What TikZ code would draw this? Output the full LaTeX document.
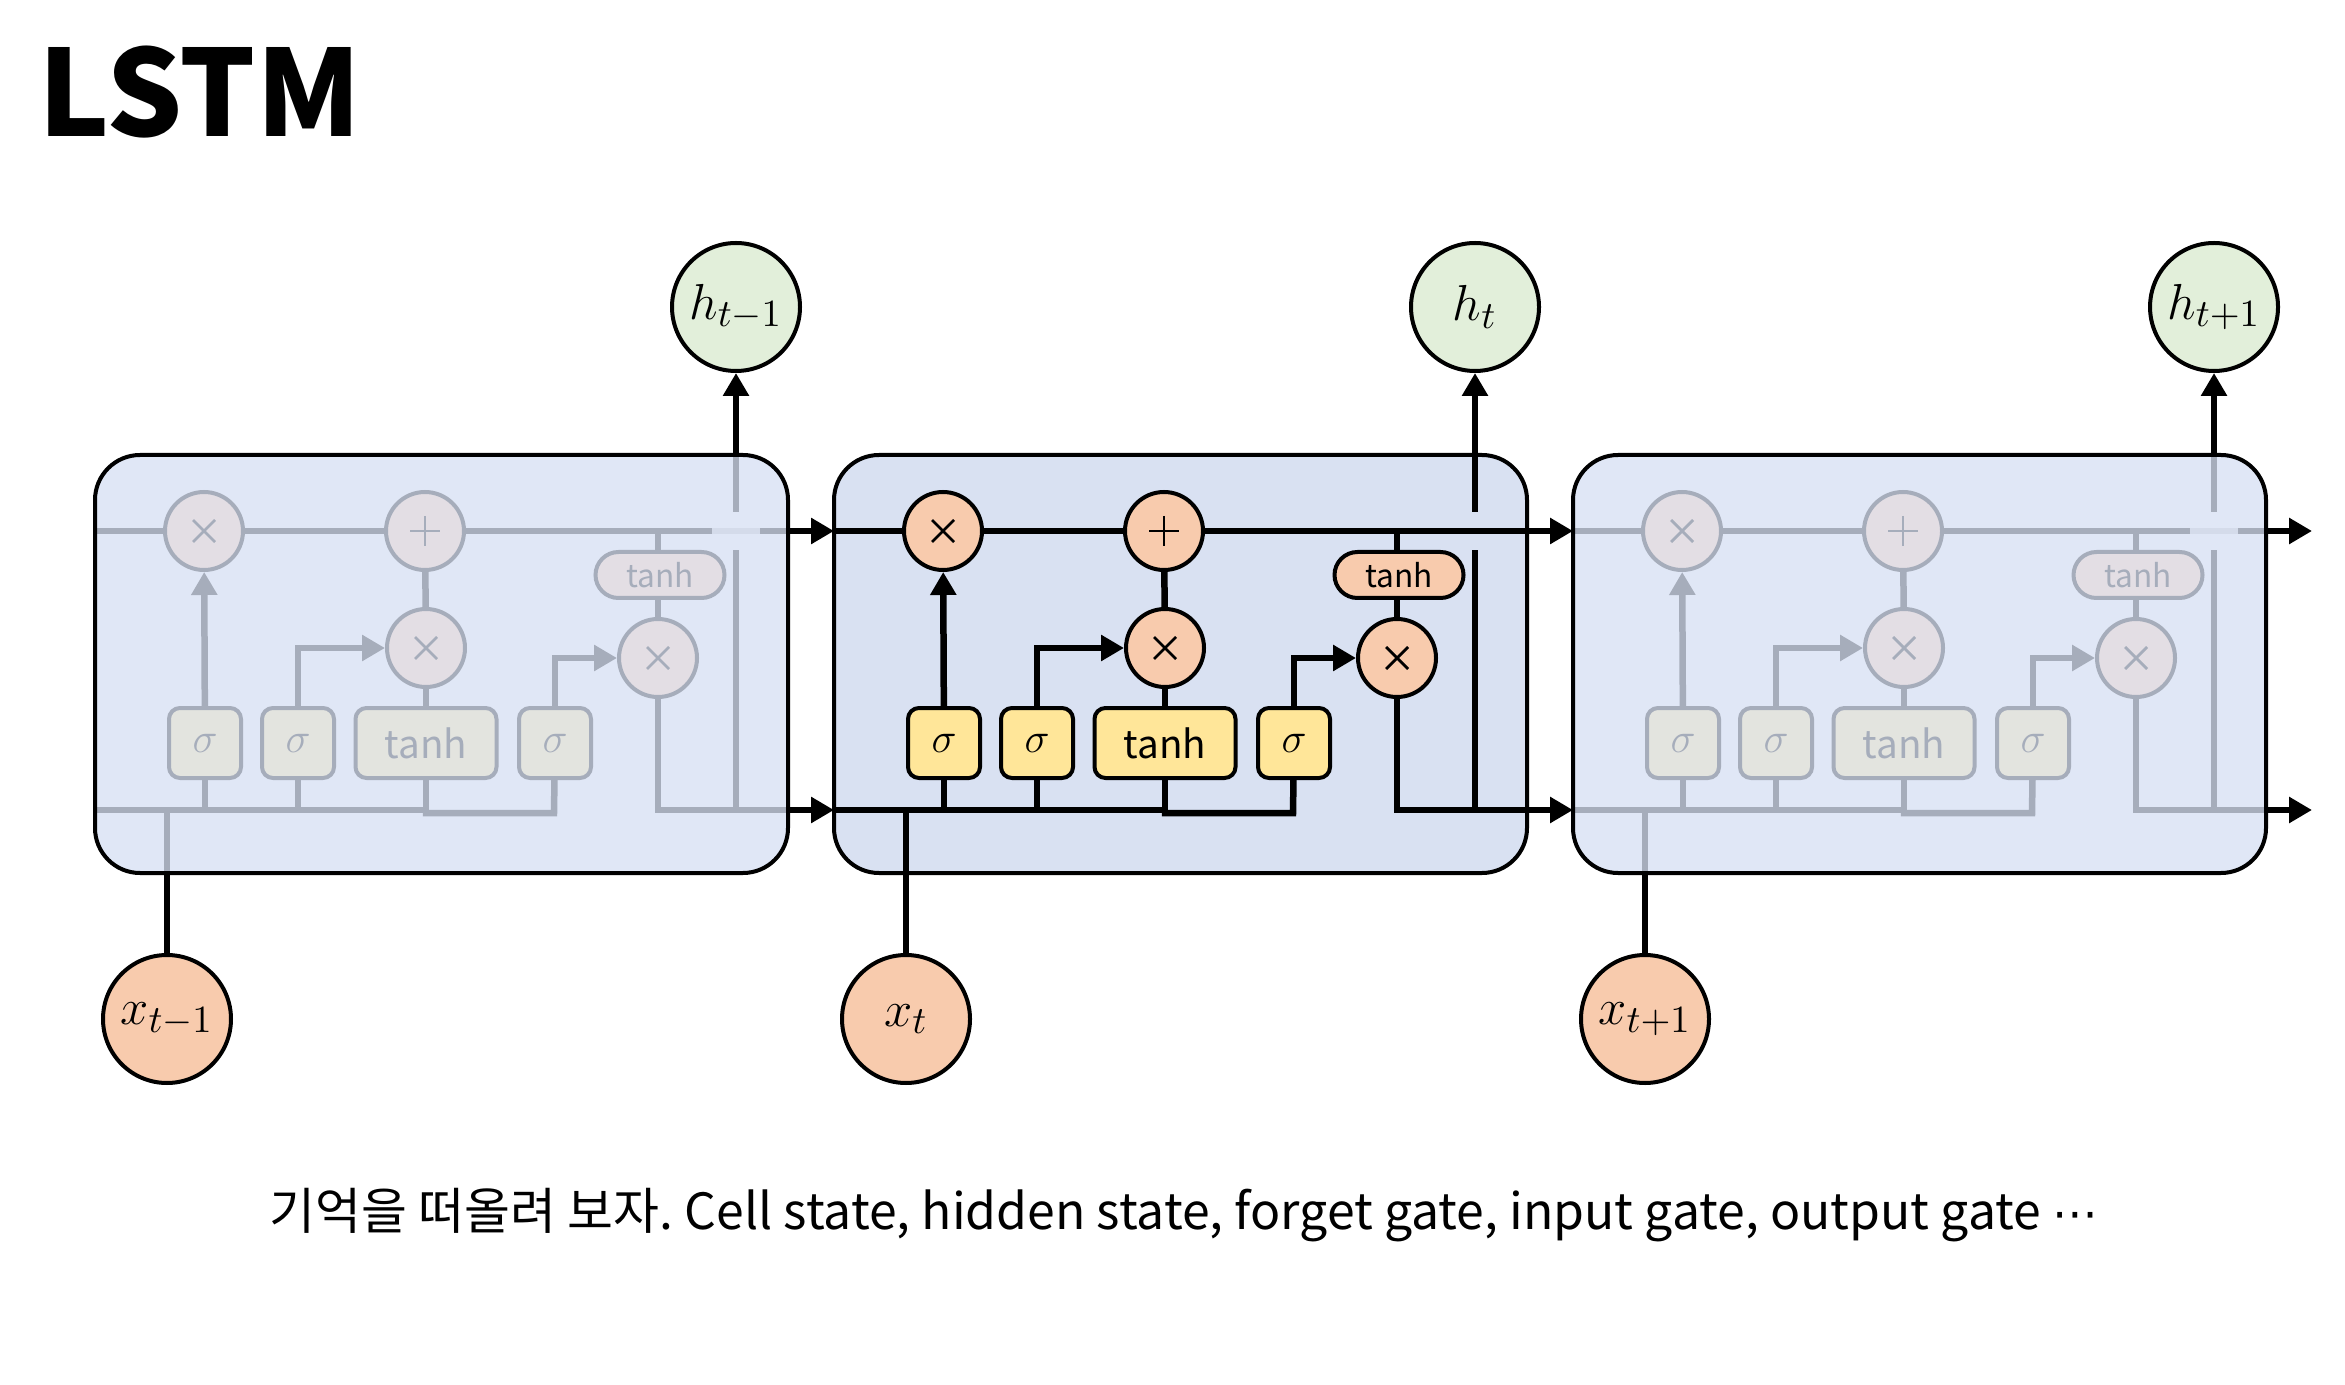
\documentclass[tikz,border=0pt]{standalone}
\usepackage[no-math]{fontspec}
\setmainfont{Noto Sans CJK KR}
\newfontfamily\dejavu{DejaVu Sans}
\usetikzlibrary{arrows.meta}
\frenchspacing

\definecolor{boxA}{HTML}{D9E1F2}
\definecolor{boxF}{HTML}{E0E7F6}
\definecolor{opA}{HTML}{F8CBAD}
\definecolor{opF}{HTML}{E3DEE4}
\definecolor{gtA}{HTML}{FFE699}
\definecolor{gtF}{HTML}{E3E4DF}
\definecolor{hcol}{HTML}{E2EFDA}
\definecolor{lnF}{HTML}{A6ADBB}

\tikzset{
  wire/.style={line width=0.65mm, draw=ln},
  blackwire/.style={line width=0.65mm, draw=black},
  arr/.style={-{Triangle[length=2.3mm,width=2.5mm]}},
  cellbox/.style={rectangle, rounded corners=4.5mm, minimum width=69.3mm, minimum height=41.8mm, inner sep=0pt},
  opnode/.style={circle, minimum size=7.8mm, inner sep=0pt, draw=ln, fill=opfill, line width=0.4mm},
  gatebox/.style={rectangle, rounded corners=1.1mm, minimum width=7.2mm, minimum height=7mm, inner sep=0pt, draw=ln, fill=gtfill, line width=0.4mm, text=ln, font=\fontsize{12}{13}\selectfont},
  widegate/.style={gatebox, minimum width=14.1mm, font=\fontsize{11}{12}\selectfont},
  pill/.style={rectangle, rounded corners=2.3mm, minimum width=12.9mm, minimum height=4.6mm, inner sep=0pt, draw=ln, fill=opfill, line width=0.4mm, text=ln, font=\fontsize{9}{10}\selectfont},
  sym/.style={line width=0.28mm, draw=ln},
  ionode/.style={circle, minimum size=12.8mm, inner sep=0pt, draw=black, line width=0.4mm, font=\fontsize{15}{17}\selectfont},
}

% #1 prefix, #2 x shift, #3 active (1/0), #4 h label, #5 x label
\newcommand\drawcell[5]{%
\begin{scope}[shift={(#2,0)}]
\ifnum#3=1
  \colorlet{ln}{black}\colorlet{opfill}{opA}\colorlet{gtfill}{gtA}\colorlet{bxfill}{boxA}%
\else
  \colorlet{ln}{lnF}\colorlet{opfill}{opF}\colorlet{gtfill}{gtF}\colorlet{bxfill}{boxF}%
\fi
\node[cellbox, fill=bxfill] (#1box) at (1180.5,664) {};
% coordinates
\coordinate (#1cl) at (834,531);
\coordinate (#1cr) at (1527,531);
\coordinate (#1co) at (1573,531);
\coordinate (#1hl) at (834,810);
\coordinate (#1hr) at (1527,810);
\coordinate (#1ho) at (1573,810);
\coordinate (#1tj) at (1397,531);
\coordinate (#1hj) at (1475,810);
\coordinate (#1hga) at (1475,550);
\coordinate (#1hgb) at (1475,512);
\coordinate (#1ht) at (1475,455);
\coordinate (#1xj) at (906,810);
\coordinate (#1xb) at (906,873);
\coordinate (#1lo) at (1293,813);
% operation nodes
\node[opnode] (#1fx) at (943,531) {};
\node[opnode] (#1pl) at (1164,531) {};
\node[opnode] (#1ix) at (1165,648) {};
\node[opnode] (#1ox) at (1397,658) {};
\node[pill] (#1th) at (1399,575) {tanh};
\node[gatebox] (#1sa) at (944,743) {$\sigma$};
\node[gatebox] (#1sb) at (1037,743) {$\sigma$};
\node[widegate] (#1tb) at (1165,743) {tanh};
\node[gatebox] (#1sc) at (1294,743) {$\sigma$};
% symbols
\draw[sym] (#1fx.center) ++(-11,-11) -- ++(22,22) ++(0,-22) -- ++(-22,22);
\draw[sym] (#1ix.center) ++(-11,-11) -- ++(22,22) ++(0,-22) -- ++(-22,22);
\draw[sym] (#1ox.center) ++(-11,-11) -- ++(22,22) ++(0,-22) -- ++(-22,22);
\draw[sym] (#1pl.center) ++(-15,0) -- ++(30,0) ++(-15,-15) -- ++(0,30);
% cell state
\draw[wire] (#1cl) -- (#1fx);
\draw[wire] (#1fx) -- (#1pl);
\draw[wire] (#1pl) -- (#1cr);
% gates
\draw[wire, arr] (#1sa) -- (#1fx);
\draw[wire, arr] (#1sb.north) |- (#1ix);
\draw[wire] (#1tb) -- (#1ix);
\draw[wire] (#1ix) -- (#1pl);
\draw[wire, arr] (#1sc.north) |- (#1ox);
\draw[wire] (#1tj) -- (#1th.north -| #1tj);
\draw[wire] (#1th.south -| #1ox) -- (#1ox);
\draw[wire] (#1ox) |- (#1hr);
% hidden / input line
\draw[wire] (#1hl) -- (#1tb.south |- #1hl);
\draw[wire] (#1sa) -- (#1sa |- #1hl);
\draw[wire] (#1sb) -- (#1sb |- #1hl);
\draw[wire] (#1tb) -- (#1tb |- #1hl);
\draw[wire] (#1tb.south |- #1hl) |- (#1lo) -- (#1sc);
% h line inside
\draw[wire] (#1hj) -- (#1hga);
\draw[wire] (#1hgb) -- (#1ht);
\ifnum#3=1\else
  \fill[boxF, opacity=0.8] (1451,512) rectangle (1499,549);
\fi
% x line inside
\draw[wire] (#1xb) -- (#1xj);
% box border
\node[cellbox, draw=black, line width=0.4mm] (#1boxb) at (1180.5,664) {};
% outside
\node[ionode, fill=hcol] (#1h) at (1475,307) {$#4$};
\node[ionode, fill=opA] (#1x) at (906,1019) {$#5$};
\draw[blackwire, arr] (#1ht) -- (#1h);
\draw[blackwire] (#1x) -- (#1xb);
\draw[blackwire, arr] (#1cr) -- (#1co);
\draw[blackwire, arr] (#1hr) -- (#1ho);
\end{scope}}

\begin{document}
\begin{tikzpicture}[x=0.1mm, y=-0.1mm]
\useasboundingbox (0,0) rectangle (2345,1385);
\fill[white] (0,0) rectangle (2345,1385);
\node[anchor=base west, inner sep=0pt, font=\fontsize{34}{40}\selectfont\bfseries] (title) at (38,137) {LSTM};
\drawcell{L}{-739}{0}{h_{t-1}}{x_{t-1}}
\drawcell{M}{0}{1}{h_{t}}{x_{t}}
\drawcell{R}{739}{0}{h_{t+1}}{x_{t+1}}
\node[anchor=base, inner sep=0pt, font=\fontsize{14.2}{16}\selectfont] (cap) at (1184,1229) {기억을 떠올려 보자. Cell state, hidden state, forget gate, input gate, output gate {\dejavu\fontsize{13}{16}\selectfont ⋯}};
\end{tikzpicture}
\end{document}
